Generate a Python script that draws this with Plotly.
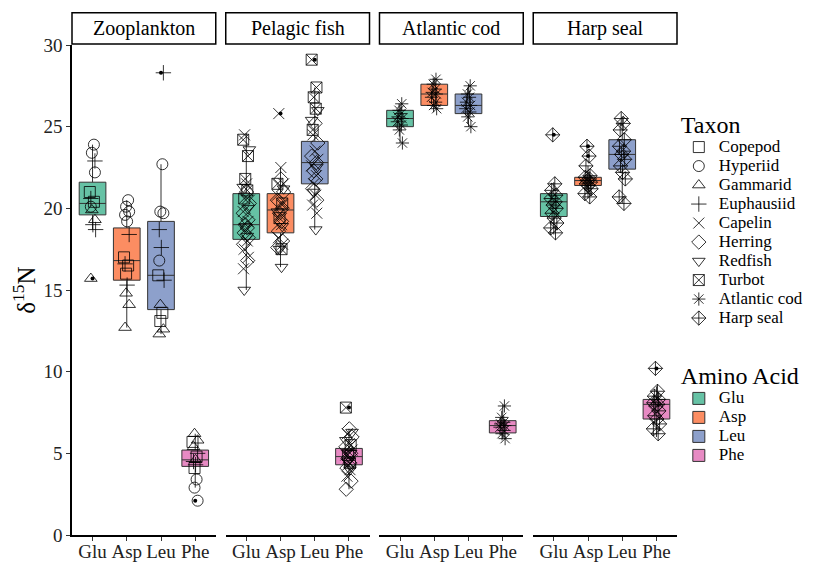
import plotly.graph_objects as go

FONT = "Liberation Serif, Times New Roman, serif"

panels = ["Zooplankton", "Pelagic fish", "Atlantic cod", "Harp seal"]
acids = ["Glu", "Asp", "Leu", "Phe"]
acid_colors = ["#66C2A5", "#FC8D62", "#8DA0CB", "#E78AC3"]

taxa = ["Copepod", "Hyperiid", "Gammarid", "Euphausiid", "Capelin", "Herring",
        "Redfish", "Turbot", "Atlantic cod", "Harp seal"]
taxon_panel = [0, 0, 0, 0, 1, 1, 1, 1, 2, 3]
taxon_symbols = ["square-open", "circle-open", "triangle-up-open", "cross-thin-open",
                 "x-thin-open", "diamond-open", "triangle-down-open", "square-x-open",
                 "asterisk-open", "diamond-cross-open"]

# delta15N values per taxon, ordered [Glu, Asp, Leu, Phe]
copepod = [[21.0, 20.4], [17.0, 16.5, 16.0], [15.9, 13.6, 13.1], [5.7, 4.8, 4.1]]
hyperiid = [[23.9, 23.4, 22.2, 20.1], [20.5, 20.1, 19.8, 19.6, 19.2], [22.7, 19.8, 19.7, 16.8], [3.4, 2.9, 2.1]]
gammarid = [[19.9, 19.3, 15.7], [14.8, 14.1, 12.7], [14.1, 12.6, 12.3], [6.2, 5.8, 5.4, 4.6]]
euphausiid = [[22.9, 20.6, 19.0, 18.7], [18.4, 16.6, 15.3], [28.3, 18.7, 17.6, 15.6], [5.0, 4.5, 4.3]]
capelin = [[24.5, 21.5, 20.5, 19.8, 19.2, 18.7, 18.0, 17.5, 17.0, 16.3],
           [25.8, 22.5, 21.5, 20.8, 20.2, 19.6, 19.0, 18.2, 17.8],
           [24.5, 23.5, 23.0, 22.6, 22.0, 21.5, 20.8, 20.2, 19.7],
           [6.2, 5.6, 5.2, 4.9, 4.6, 4.3, 4.0, 3.6]]
herring = [[21.0, 20.3, 19.7, 19.3, 19.0, 18.8, 18.5, 18.2, 17.8, 16.8],
           [21.8, 21.0, 20.5, 20.0, 19.7, 19.2, 18.6, 18.0, 17.6],
           [25.2, 24.0, 23.2, 22.8, 22.3, 21.8, 21.2, 20.5],
           [6.5, 6.0, 5.4, 5.0, 4.7, 4.4, 4.1, 3.3, 2.8]]
redfish = [[23.6, 21.3, 20.0, 18.9, 18.3, 15.0],
           [21.2, 19.8, 18.9, 17.5, 16.4],
           [26.0, 25.4, 22.5, 21.0, 18.7],
           [6.3, 5.8, 5.0, 4.5, 4.0]]
turbot = [[24.2, 23.2, 21.8, 21.1, 20.6],
          [21.5, 20.3, 19.4, 17.5],
          [29.1, 27.4, 26.8, 26.1, 24.8],
          [7.8, 5.5, 4.9, 4.4]]
atlantic_cod = [[26.4, 26.0, 25.8, 25.6, 25.5, 25.3, 25.1, 24.8, 24.0],
                [27.9, 27.6, 27.3, 27.1, 27.0, 26.8, 26.5, 26.3, 26.1],
                [27.5, 27.0, 26.8, 26.5, 26.3, 26.1, 25.9, 25.6, 25.0],
                [7.9, 7.2, 6.9, 6.8, 6.7, 6.6, 6.4, 6.2, 5.9]]
harp_seal = [[24.5, 21.5, 21.1, 20.8, 20.6, 20.4, 20.2, 20.0, 19.7, 19.4, 19.1, 18.8, 18.5],
             [23.8, 23.2, 22.6, 22.0, 21.9, 21.8, 21.7, 21.6, 21.5, 21.4, 21.2, 20.9, 20.7],
             [25.5, 25.2, 24.8, 24.2, 23.8, 23.5, 23.3, 23.0, 22.6, 22.2, 21.8, 20.7, 20.3],
             [10.2, 8.8, 8.5, 8.3, 8.1, 8.0, 7.9, 7.6, 7.3, 7.1, 6.8, 6.5, 6.2]]
taxon_values = [copepod, hyperiid, gammarid, euphausiid, capelin, herring,
                redfish, turbot, atlantic_cod, harp_seal]

# Box statistics per panel, ordered [Glu, Asp, Leu, Phe]
box_q1 = [[19.6, 15.6, 13.8, 4.2], [18.1, 18.5, 21.5, 4.3], [25.0, 26.3, 25.8, 6.25], [19.5, 21.4, 22.4, 7.1]]
box_median = [[20.3, 16.8, 15.9, 4.6], [19.0, 19.9, 22.8, 4.8], [25.5, 27.0, 26.3, 6.7], [20.4, 21.7, 23.3, 8.0]]
box_q3 = [[21.6, 18.8, 19.2, 5.2], [20.9, 20.9, 24.1, 5.3], [26.0, 27.6, 27.0, 7.0], [20.9, 21.9, 24.2, 8.3]]
box_low = [[18.7, 12.7, 12.3, 2.9], [15.0, 16.4, 18.7, 2.8], [24.0, 26.1, 25.0, 5.9], [18.4, 20.6, 20.3, 6.0]]
box_high = [[23.9, 20.5, 22.7, 6.2], [24.6, 22.5, 27.4, 6.5], [26.4, 28.0, 27.6, 8.0], [21.6, 22.6, 25.6, 9.1]]
box_outliers = [[[15.7], [], [28.3], [2.1]],
                [[], [25.8], [29.1], [7.8]],
                [[], [], [], []],
                [[24.5], [23.8, 23.2], [], [10.2]]]

jitter_pattern = [-0.08, 0.04, -0.02, 0.07, -0.05, 0.01, 0.09, -0.09, 0.05, -0.03, 0.03, -0.06, 0.06]

gap = 0.0165
pw = (1 - 3 * gap) / 4
domains = [[i * (pw + gap), i * (pw + gap) + pw] for i in range(4)]


def legend_label(text):
    return "<span style='font-size:17px'>" + text + "</span>"


fig = go.Figure()


def axn(i):
    return "" if i == 0 else str(i + 1)


# boxes
for p in range(4):
    for k, acid in enumerate(acids):
        fig.add_trace(go.Box(
            x=[k + 1], q1=[box_q1[p][k]], median=[box_median[p][k]], q3=[box_q3[p][k]],
            lowerfence=[box_low[p][k]], upperfence=[box_high[p][k]],
            fillcolor=acid_colors[k], line=dict(color="#333333", width=1),
            whiskerwidth=0, width=0.78, boxpoints=False,
            name=legend_label(acid), legendgroup=acid, legend="legend2", showlegend=(p == 0),
            xaxis="x" + axn(p), yaxis="y" + axn(p), hoverinfo="skip"))
    ox, oy = [], []
    for k in range(4):
        for v in box_outliers[p][k]:
            ox.append(k + 1)
            oy.append(v)
    if ox:
        fig.add_trace(go.Scatter(x=ox, y=oy, mode="markers",
                                 marker=dict(symbol="circle", size=4, color="black"),
                                 showlegend=False, hoverinfo="skip", cliponaxis=False,
                                 xaxis="x" + axn(p), yaxis="y" + axn(p)))

# points
for t, name in enumerate(taxa):
    p = taxon_panel[t]
    xs, ys = [], []
    for k in range(4):
        for j, v in enumerate(taxon_values[t][k]):
            xs.append(k + 1 + jitter_pattern[(j + t) % len(jitter_pattern)])
            ys.append(v)
    fig.add_trace(go.Scatter(
        x=xs, y=ys, mode="markers", name=legend_label(name), legend="legend",
        marker=dict(symbol=taxon_symbols[t], size=11, color="black",
                    line=dict(color="black", width=0.8)),
        cliponaxis=False, hoverinfo="skip",
        xaxis="x" + axn(p), yaxis="y" + axn(p)))

layout = dict(
    width=805, height=554,
    margin=dict(l=64, r=136, t=37, b=27, autoexpand=False),
    plot_bgcolor="white", paper_bgcolor="white",
    font=dict(family=FONT, color="black"),
    boxmode="overlay",
    showlegend=True,
    legend=dict(title=dict(text="Taxon", font=dict(size=24, family=FONT)),
                font=dict(size=12, family=FONT), x=1.003, xanchor="left",
                y=0.885, yanchor="top", bgcolor="rgba(0,0,0,0)", tracegroupgap=0),
    legend2=dict(title=dict(text="Amino Acid", font=dict(size=24, family=FONT)),
                 font=dict(size=12, family=FONT), x=1.003, xanchor="left",
                 y=0.372, yanchor="top", bgcolor="rgba(0,0,0,0)", tracegroupgap=0),
)

shapes = []
annotations = []
for p in range(4):
    layout["xaxis" + axn(p)] = dict(
        domain=domains[p], anchor="y" + axn(p), range=[0.4, 4.6],
        tickvals=[1, 2, 3, 4], ticktext=acids, showline=True, linecolor="black",
        linewidth=1.5, ticks="outside", ticklen=4, tickwidth=1.2, tickcolor="#333",
        tickfont=dict(size=19, family=FONT, color="#222"), ticklabelstandoff=-6,
        showgrid=False, zeroline=False, fixedrange=True)
    ydict = dict(anchor="x" + axn(p), range=[0, 30], domain=[0, 1],
                 showgrid=False, zeroline=False, fixedrange=True)
    if p == 0:
        ydict.update(showline=True, linecolor="black", linewidth=1.5, ticks="outside",
                     ticklen=4, tickwidth=1.2, tickcolor="#333",
                     tickvals=[0, 5, 10, 15, 20, 25, 30],
                     tickfont=dict(size=19, family=FONT, color="#222"),
                     title=dict(text="δ<sup>15</sup>N", font=dict(size=25, family=FONT)))
    else:
        ydict.update(matches="y", showline=False, showticklabels=False, ticks="")
    layout["yaxis" + axn(p)] = ydict
    shapes.append(dict(type="rect", xref="paper", yref="paper",
                       x0=domains[p][0], x1=domains[p][1], y0=1.002, y1=1.066,
                       line=dict(color="black", width=1.5), fillcolor="white"))
    annotations.append(dict(text=panels[p], xref="paper", yref="paper",
                            x=(domains[p][0] + domains[p][1]) / 2, y=1.034,
                            xanchor="center", yanchor="middle", showarrow=False,
                            font=dict(size=20, family=FONT, color="black")))

layout["shapes"] = shapes
layout["annotations"] = annotations
fig.update_layout(**layout)
fig.write_html("out.html")
